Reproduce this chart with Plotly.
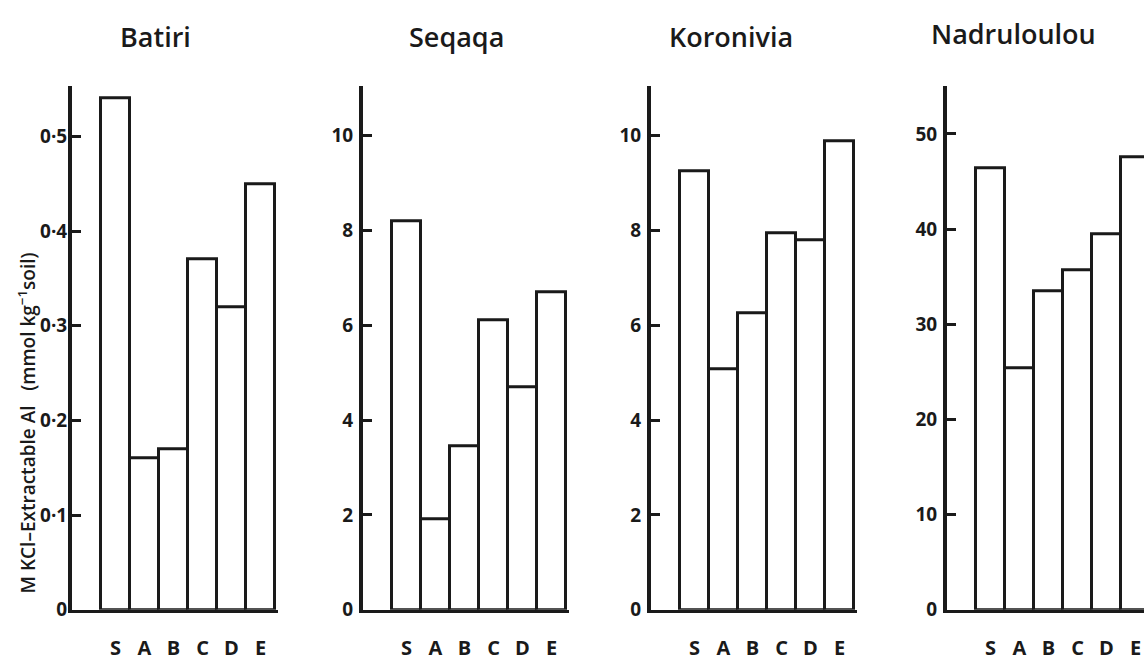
import plotly.graph_objects as go

sites = ["Batiri", "Seqaqa", "Koronivia", "Nadruloulou"]
horizons = ["S", "A", "B", "C", "D", "E"]

batiri = [0.54, 0.16, 0.17, 0.37, 0.32, 0.45]
seqaqa = [8.2, 1.9, 3.45, 6.1, 4.7, 6.7]
koronivia = [9.24, 5.08, 6.26, 7.95, 7.8, 9.87]
nadruloulou = [46.4, 25.4, 33.5, 35.7, 39.4, 47.5]

batiri_ticks = [0, 0.1, 0.2, 0.3, 0.4, 0.5]
batiri_ticktext = ["0", "0·1", "0·2", "0·3", "0·4", "0·5"]
seqaqa_ticks = [0, 2, 4, 6, 8, 10]
koronivia_ticks = [0, 2, 4, 6, 8, 10]
nadruloulou_ticks = [0, 10, 20, 30, 40, 50]

y_label = "M KCl–Extractable Al   (mmol kg<sup>−1</sup>soil)"

W, H = 1144, 663
INK = "#1a1a1a"
FONT = "Open Sans"

panels = [
    (batiri, batiri_ticks, batiri_ticktext, 0.553, 72, 278, -3),
    (seqaqa, seqaqa_ticks, [str(v) for v in seqaqa_ticks], 11.04, 363, 569, 2),
    (koronivia, koronivia_ticks, [str(v) for v in koronivia_ticks], 11.04, 651, 857, 2),
    (nadruloulou, nadruloulou_ticks, [str(v) for v in nadruloulou_ticks], 55.0, 947, 1144, 2),
]

fig = go.Figure()
y_dom = [(H - 622) / H, (H - 88) / H]
layout_axes = {}
annotations = []
for i, (vals, tv, tt, ymax, x0, x1, ystand) in enumerate(panels, start=1):
    xa = "x" if i == 1 else f"x{i}"
    ya = "y" if i == 1 else f"y{i}"
    fig.add_trace(go.Bar(
        x=horizons, y=vals, xaxis=xa, yaxis=ya, width=1.0,
        marker=dict(color="white", line=dict(color=INK, width=3)),
        showlegend=False, hoverinfo="x+y",
    ))
    span_units = (x1 - x0) / 29.0
    suffix = "" if i == 1 else str(i)
    layout_axes[f"xaxis{suffix}"] = dict(
        domain=[x0 / W, x1 / W], anchor=ya, type="category",
        categoryorder="array", categoryarray=horizons,
        range=[-1.5, -1.5 + span_units],
        showline=True, linecolor=INK, linewidth=3,
        showgrid=False, zeroline=False, ticks="",
        tickfont=dict(family=FONT, size=20, color=INK, weight=700),
        ticklabelstandoff=18,
    )
    layout_axes[f"yaxis{suffix}"] = dict(
        domain=y_dom, anchor=xa, range=[0, ymax],
        tickvals=tv, ticktext=tt,
        showline=True, linecolor=INK, linewidth=4,
        showgrid=False, zeroline=False,
        ticks="inside", ticklen=9, tickwidth=3, tickcolor=INK,
        tickfont=dict(family=FONT, size=19, color=INK, weight=700),
        ticklabelstandoff=ystand,
    )

titles_x = [155, 456, 731, 1013]
titles_y = [37, 37, 37, 34]
for name, cx, cy in zip(sites, titles_x, titles_y):
    annotations.append(dict(
        text=name, x=cx / W, y=(H - cy) / H, xref="paper", yref="paper",
        showarrow=False, xanchor="center", yanchor="middle",
        font=dict(family=FONT, size=27, color=INK, weight=600),
    ))

annotations.append(dict(
    text=y_label, x=27 / W, y=(H - 432) / H, xref="paper", yref="paper",
    showarrow=False, textangle=-90, xanchor="center", yanchor="middle",
    font=dict(family=FONT, size=19, color=INK, weight=600),
))

fig.update_layout(
    width=W, height=H, margin=dict(l=0, r=0, t=0, b=0),
    paper_bgcolor="white", plot_bgcolor="white",
    bargap=0, annotations=annotations, **layout_axes,
)

fig.write_html("out.html", config={"displayModeBar": False})
